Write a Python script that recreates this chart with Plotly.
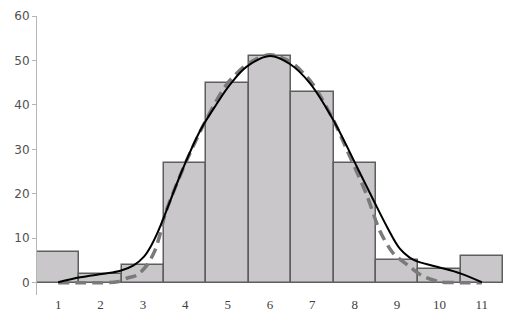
import plotly.graph_objects as go

categories = [1, 2, 3, 4, 5, 6, 7, 8, 9, 10, 11]
counts = [7, 2, 4, 27, 45, 51, 43, 27, 5, 3, 6]

fit_x = [1.0, 1.52, 2.07, 2.47, 2.78, 3.02, 3.21, 3.37, 3.49, 3.95, 4.35, 4.74, 5.06, 5.45,
         6.0, 6.47, 6.94, 7.5, 8.05, 8.44, 8.76, 9.07, 9.38, 9.94, 10.49, 11.0]
fit_y = [0.1, 1.2, 2.0, 2.7, 3.9, 5.8, 8.6, 11.8, 14.6, 25.8, 34.2, 40.2, 44.6, 48.6,
         51.0, 49.2, 44.9, 36.5, 26.1, 18.6, 12.6, 7.6, 5.2, 3.6, 2.1, 0.1]

normal_x = [1, 1.5, 2, 2.4, 2.62, 2.86, 3.1, 3.29, 3.41, 3.53, 4, 4.5, 5, 5.5, 6, 6.5, 7,
            7.5, 7.81, 8.28, 8.6, 8.91, 9.3, 9.62, 10.01, 10.5, 11]
normal_y = [0, 0, 0, 0.2, 1.0, 1.7, 4.0, 7.4, 11.1, 15.6, 26.8, 36.8, 44.9, 49.4, 51.3, 49.6, 44.8,
            36.5, 30.0, 19.8, 11.5, 6.6, 3.6, 1.4, 0.2, 0, 0]

y_ticks = [0, 10, 20, 30, 40, 50, 60]

fig = go.Figure()
fig.add_trace(go.Bar(
    x=categories, y=counts, width=1,
    marker=dict(color="#c9c7c9", line=dict(color="#5e5e5e", width=1.5)),
))
fig.add_trace(go.Scatter(
    x=normal_x, y=normal_y, mode="lines",
    line=dict(color="#7a7a7a", width=3.5, dash="11px,6px", shape="spline", smoothing=0.8),
))
fig.add_trace(go.Scatter(
    x=fit_x, y=fit_y, mode="lines",
    line=dict(color="#000000", width=2, shape="spline", smoothing=1.0),
))

fig.update_layout(
    template="none",
    width=514, height=313,
    margin=dict(l=37, r=11, t=16, b=18, autoexpand=False),
    paper_bgcolor="white", plot_bgcolor="white",
    showlegend=False, bargap=0,
    xaxis=dict(
        range=[0.5, 11.5], tickmode="array", tickvals=categories,
        ticktext=[str(c) for c in categories], automargin=False,
        showgrid=False, zeroline=False, showline=False, ticks="",
        tickfont=dict(family="Liberation Serif", size=13, color="#404040"),
    ),
    yaxis=dict(
        range=[-2.77, 60], tickmode="array", tickvals=y_ticks, automargin=False,
        showgrid=False, zeroline=True, zerolinecolor="#a6a6a6", zerolinewidth=1,
        showline=True, linecolor="#b5b5b5", linewidth=1,
        ticks="outside", ticklen=4, tickcolor="#b5b5b5",
        tickfont=dict(family="DejaVu Sans", size=12, color="#505050"),
    ),
)

fig.write_html(
    "out.html",
    config={"displayModeBar": False},
    post_script="document.body.style.margin='0';document.body.style.overflow='hidden';",
)
